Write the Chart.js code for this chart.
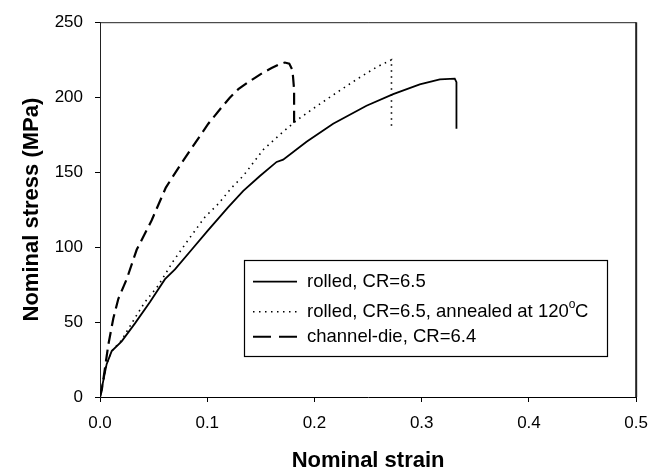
<!DOCTYPE html>
<html>
<head>
<meta charset="utf-8">
<script src="https://cdn.jsdelivr.net/npm/chart.js@4/dist/chart.umd.min.js"></script>
<style>
html,body{margin:0;padding:0;background:#fff;}
#wrap{position:relative;width:659px;height:474px;}
</style>
</head>
<body>
<div id="wrap"><canvas id="c" width="659" height="474"></canvas></div>
<script>
// Series: rolled, CR=6.5
const rolledStrain = [0, 0.0031, 0.0062, 0.0109, 0.0202, 0.0326, 0.0466, 0.0606, 0.0699, 0.0854, 0.1009, 0.1196, 0.1336, 0.1491, 0.1647, 0.1708, 0.1926, 0.2174, 0.2485, 0.2734, 0.2982, 0.3169, 0.3308, 0.3324, 0.3324];
const rolledStress = [0, 10.9, 21.9, 30.6, 37.1, 49.1, 63.3, 78.6, 85.1, 98.2, 111.3, 126.7, 137.5, 147.4, 156.8, 158.3, 170.3, 182.3, 194.3, 202.0, 208.5, 211.8, 212.4, 210, 179];
// Series: rolled, CR=6.5, annealed at 120°C
const annealedStrain = [0, 0.003, 0.0062, 0.0109, 0.0202, 0.0342, 0.0419, 0.0543, 0.0683, 0.0823, 0.0979, 0.1103, 0.1226, 0.1336, 0.1522, 0.1678, 0.1833, 0.2019, 0.2206, 0.2392, 0.2578, 0.2718, 0.2718];
const annealedStress = [0, 11, 22, 30.6, 38, 54.6, 63.3, 74.3, 90.6, 104.8, 120.1, 128.8, 139.5, 147.5, 164.9, 175.1, 184.5, 193.9, 203, 211.8, 220, 224.9, 180];
// Series: channel-die, CR=6.4
const channelStrain = [0, 0.0016, 0.0047, 0.0078, 0.0124, 0.0171, 0.0249, 0.0342, 0.0482, 0.0614, 0.0761, 0.0885, 0.101, 0.1134, 0.121, 0.129, 0.137, 0.1445, 0.152, 0.160, 0.167, 0.1724, 0.1765, 0.1795, 0.181, 0.181];
const channelStress = [0, 4.4, 19.6, 35, 52.4, 65.5, 78.6, 98.2, 117.9, 139.7, 156.1, 169.2, 182.3, 193.2, 199.6, 205.3, 209.4, 212.9, 216.4, 219.4, 221.8, 223.1, 222.4, 218, 205, 180];

const xTicks = [0, 0.1, 0.2, 0.3, 0.4, 0.5];
const yTicks = [0, 50, 100, 150, 200, 250];
const seriesLabels = ['rolled, CR=6.5', 'rolled, CR=6.5, annealed at 120', 'channel-die, CR=6.4'];

function pts(xs, ys){ return xs.map((x,i)=>({x:x, y:ys[i]})); }

const FONT = '"Liberation Sans", Arial, sans-serif';

const frame = {
  id: 'frame',
  afterDraw(chart){
    const {ctx, chartArea:a} = chart;
    ctx.save();
    ctx.strokeStyle = '#222';
    ctx.lineWidth = 1;
    ctx.beginPath();
    ctx.moveTo(a.left, a.top + 0.5);
    ctx.lineTo(a.right, a.top + 0.5);
    ctx.stroke();
    ctx.lineWidth = 2;
    ctx.beginPath();
    ctx.moveTo(a.right, a.top);
    ctx.lineTo(a.right, a.bottom);
    ctx.stroke();
    ctx.restore();
  }
};

const legendBox = {
  id: 'legendBox',
  afterDraw(chart){
    const ctx = chart.ctx;
    const L = 244, T = 260, R = 607, B = 356;
    ctx.save();
    ctx.fillStyle = '#fff';
    ctx.fillRect(L, T, R-L, B-T);
    ctx.strokeStyle = '#000';
    ctx.lineWidth = 1.2;
    ctx.strokeRect(L+0.5, T+0.5, R-L, B-T);
    const rows = [281.7, 311.7, 336.7];
    const styles = [
      {dash: [], w: 1.8},
      {dash: [1.5, 4.5], w: 1.6},
      {dash: [18, 8], w: 2}
    ];
    chart.data.datasets.forEach((ds, i) => {
      const y = rows[i];
      ctx.strokeStyle = '#000';
      ctx.lineWidth = styles[i].w;
      ctx.setLineDash(styles[i].dash);
      ctx.beginPath();
      ctx.moveTo(253, y);
      ctx.lineTo(297, y);
      ctx.stroke();
      ctx.setLineDash([]);
      ctx.fillStyle = '#000';
      ctx.font = '18.5px ' + FONT;
      ctx.textBaseline = 'middle';
      ctx.textAlign = 'left';
      ctx.fillText(seriesLabels[i], 307, y);
      if (i === 1) {
        let x = 307 + ctx.measureText(seriesLabels[i]).width;
        ctx.font = '12px ' + FONT;
        ctx.fillText('o', x, y - 7);
        x += ctx.measureText('o').width - 0.5;
        ctx.font = '18.5px ' + FONT;
        ctx.fillText('C', x, y);
      }
    });
    ctx.restore();
  }
};

new Chart(document.getElementById('c'), {
  type: 'scatter',
  data: {
    datasets: [
      { label: seriesLabels[0], data: pts(rolledStrain, rolledStress), showLine: true,
        borderColor: '#000', borderWidth: 1.8, pointRadius: 0, tension: 0 },
      { label: seriesLabels[1] + '°C', data: pts(annealedStrain, annealedStress), showLine: true,
        borderColor: '#000', borderWidth: 1.6, borderDash: [1.5, 4.5], pointRadius: 0, tension: 0 },
      { label: seriesLabels[2], data: pts(channelStrain, channelStress), showLine: true,
        borderColor: '#000', borderWidth: 2.2, borderDash: [12, 6], pointRadius: 0, tension: 0 }
    ]
  },
  options: {
    responsive: false,
    animation: false,
    layout: { padding: { top: 15, right: 22, left: 0, bottom: 0 } },
    plugins: { legend: { display: false }, tooltip: { enabled: false } },
    scales: {
      x: {
        type: 'linear', min: 0, max: 0.5,
        afterFit: s => { s.height = 77; },
        afterBuildTicks: s => { s.ticks = xTicks.map(v => ({value: v})); },
        grid: { drawOnChartArea: false, drawTicks: true, tickLength: 5, tickColor: '#000' },
        border: { display: true, color: '#000', width: 1 },
        ticks: { color: '#000', padding: 11, font: { family: FONT, size: 17 },
                 callback: v => v.toFixed(1) },
        title: { display: true, text: 'Nominal strain', color: '#000',
                 font: { family: FONT, size: 22, weight: 'bold' }, padding: { top: 0, bottom: 0 } }
      },
      y: {
        type: 'linear', min: 0, max: 250,
        afterFit: s => { s.width = 100; },
        afterBuildTicks: s => { s.ticks = yTicks.map(v => ({value: v})); },
        grid: { drawOnChartArea: false, drawTicks: true, tickLength: 5, tickColor: '#000' },
        border: { display: true, color: '#222', width: 1 },
        ticks: { color: '#000', padding: 12, font: { family: FONT, size: 17 },
                 callback: v => String(v) },
        title: { display: true, text: 'Nominal stress (MPa)', color: '#000',
                 font: { family: FONT, size: 22, weight: 'bold' }, padding: { top: 19, bottom: 0 } }
      }
    }
  },
  plugins: [frame, legendBox]
});
</script>
</body>
</html>
